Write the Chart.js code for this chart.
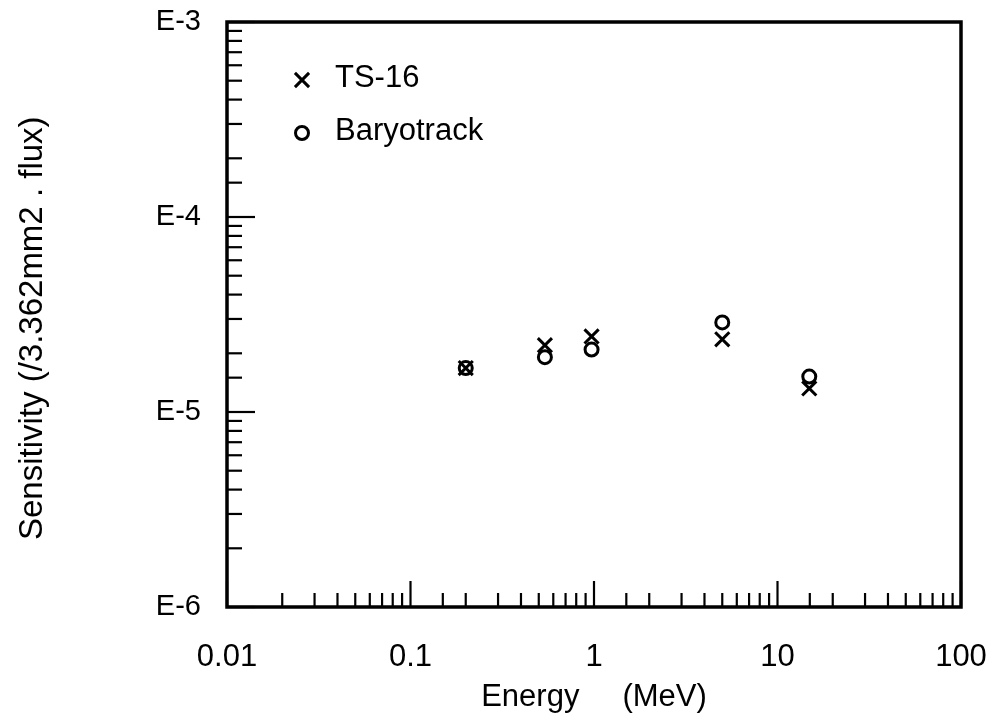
<!DOCTYPE html>
<html>
<head>
<meta charset="utf-8">
<script src="https://cdn.jsdelivr.net/npm/chart.js@4"></script>
<style>
  html, body { margin: 0; padding: 0; background: #fff; }
  canvas { display: block; }
</style>
</head>
<body>
<canvas id="sensChart" width="991" height="720"></canvas>
<script>
// values
const energies = [0.2, 0.54, 0.97, 5.0, 14.9];               // MeV
const ts16 = [1.68e-5, 2.20e-5, 2.44e-5, 2.36e-5, 1.32e-5];
const baryotrack = [1.68e-5, 1.91e-5, 2.09e-5, 2.88e-5, 1.52e-5];

const energyTicks = [0.01, 0.1, 1, 10, 100];
const energyTickLabels = ['0.01', '0.1', '1', '10', '100'];
const sensTicks = [1e-6, 1e-5, 1e-4, 1e-3];
const sensTickLabels = ['E-6', 'E-5', 'E-4', 'E-3'];

const seriesNames = ['TS-16', 'Baryotrack'];

const FONT = '"Liberation Sans", Arial, Helvetica, sans-serif';

function labelFor(v, vals, labels) {
    for (let i = 0; i < vals.length; i++) {
        if (Math.abs(Math.log10(v) - Math.log10(vals[i])) < 1e-6) return labels[i];
    }
    return '';
}

function isDecade(v) {
    const l = Math.log10(v);
    return Math.abs(l - Math.round(l)) < 1e-6;
}

// frame + inward tick marks, like the original plot
const frameTicks = {
    id: 'frameTicks',
    beforeDatasetsDraw(chart) {
        const {ctx, chartArea: a, scales} = chart;
        ctx.save();
        ctx.strokeStyle = '#000';
        ctx.lineWidth = 2.2;
        scales.x.ticks.forEach(t => {
            const px = scales.x.getPixelForValue(t.value);
            const len = isDecade(t.value) ? 26 : 14;
            ctx.beginPath();
            ctx.moveTo(px, a.bottom);
            ctx.lineTo(px, a.bottom - len);
            ctx.stroke();
        });
        scales.y.ticks.forEach(t => {
            const py = scales.y.getPixelForValue(t.value);
            const len = isDecade(t.value) ? 28 : 15;
            ctx.beginPath();
            ctx.moveTo(a.left, py);
            ctx.lineTo(a.left + len, py);
            ctx.stroke();
        });
        ctx.lineWidth = 3.5;
        ctx.strokeRect(a.left, a.top, a.right - a.left, a.bottom - a.top);
        ctx.restore();
    }
};

// legend in the upper left of the plot
const plotLegend = {
    id: 'plotLegend',
    afterDatasetsDraw(chart) {
        const {ctx, chartArea: a} = chart;
        ctx.save();
        ctx.font = '31px ' + FONT;
        ctx.textBaseline = 'alphabetic';
        chart.data.datasets.forEach((ds, i) => {
            const cy = a.top + 58 + i * 53;
            ctx.strokeStyle = '#000';
            ctx.fillStyle = ds.backgroundColor;
            ctx.lineWidth = ds.borderWidth;
            Chart.helpers.drawPoint(ctx, {
                pointStyle: ds.pointStyle,
                radius: ds.pointRadius,
                borderWidth: ds.borderWidth,
                rotation: 0
            }, a.left + 75, cy);
            ctx.fillStyle = '#000';
            ctx.fillText(ds.label, a.left + 108, cy + 7);
        });
        ctx.restore();
    }
};

new Chart(document.getElementById('sensChart'), {
    type: 'scatter',
    data: {
        datasets: [
            {
                label: seriesNames[0],
                data: energies.map((e, i) => ({x: e, y: ts16[i]})),
                pointStyle: 'crossRot',
                pointRadius: 10,
                borderWidth: 3,
                borderColor: '#000',
                backgroundColor: '#000'
            },
            {
                label: seriesNames[1],
                data: energies.map((e, i) => ({x: e, y: baryotrack[i]})),
                pointStyle: 'circle',
                pointRadius: 6.5,
                borderWidth: 3,
                borderColor: '#000',
                backgroundColor: 'rgba(0,0,0,0)'
            }
        ]
    },
    options: {
        responsive: false,
        animation: false,
        events: [],
        layout: {
            padding: {top: 22, right: 30, left: 0, bottom: 0}
        },
        plugins: {
            legend: {display: false},
            tooltip: {enabled: false}
        },
        scales: {
            x: {
                type: 'logarithmic',
                min: 0.01,
                max: 100,
                afterFit: s => {
                    s.height = 113;
                    s.paddingLeft = 0;
                    s.paddingRight = 0;
                },
                grid: {display: false, drawTicks: false},
                border: {display: false},
                ticks: {
                    autoSkip: false,
                    maxRotation: 0,
                    padding: 32,
                    color: '#000',
                    font: {family: FONT, size: 31},
                    callback: v => labelFor(v, energyTicks, energyTickLabels)
                },
                title: {
                    display: true,
                    text: 'Energy     (MeV)',
                    color: '#000',
                    font: {family: FONT, size: 31},
                    padding: {top: 0, bottom: 4}
                }
            },
            y: {
                type: 'logarithmic',
                min: 1e-6,
                max: 1e-3,
                afterFit: s => {
                    s.width = 227;
                    s.paddingTop = 0;
                    s.paddingBottom = 0;
                },
                grid: {display: false, drawTicks: false},
                border: {display: false},
                ticks: {
                    autoSkip: false,
                    padding: 26,
                    color: '#000',
                    font: {family: FONT, size: 29},
                    callback: v => labelFor(v, sensTicks, sensTickLabels)
                },
                title: {
                    display: true,
                    text: 'Sensitivity (/3.362mm2 . flux)   ',
                    color: '#000',
                    font: {family: FONT, size: 33},
                    padding: {top: 13, bottom: 0}
                }
            }
        }
    },
    plugins: [frameTicks, plotLegend]
});
</script>
</body>
</html>
